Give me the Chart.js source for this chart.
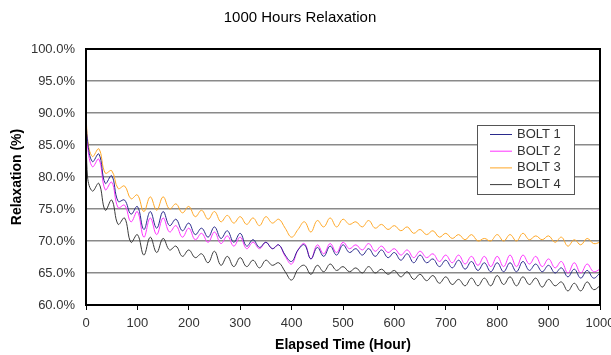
<!DOCTYPE html>
<html>
<head>
<meta charset="utf-8">
<script src="https://cdn.jsdelivr.net/npm/chart.js@4/dist/chart.umd.min.js"></script>
<style>
  html, body { margin: 0; padding: 0; background: #fff; }
  #wrap { width: 611px; height: 355px; }
</style>
</head>
<body>
<div id="wrap"><canvas id="relax" width="611" height="355"></canvas></div>
<script>
// elapsed hours of each reading
const hours = [0, 3, 12.5, 25, 37.5, 50, 62.5, 75, 87.5, 100,
    112.5, 125, 137.5, 150, 162.5, 175, 187.5, 200, 212.5, 225,
    237.5, 250, 262.5, 275, 287.5, 300, 312.5, 325, 337.5, 350,
    362.5, 375, 387.5, 400, 412.5, 425, 437.5, 450, 462.5, 475,
    487.5, 500, 512.5, 525, 537.5, 550, 562.5, 575, 587.5, 600,
    612.5, 625, 637.5, 650, 662.5, 675, 687.5, 700, 712.5, 725,
    737.5, 750, 762.5, 775, 787.5, 800, 812.5, 825, 837.5, 850,
    862.5, 875, 887.5, 900, 912.5, 925, 937.5, 950, 962.5, 975,
    987.5, 1000];

// relaxation (%) per bolt
const bolt1 = [90.0, 85.6, 82.4, 83.6, 79.0, 80.2, 76.2, 76.4, 74.2, 75.4,
    71.8, 74.6, 72.0, 74.6, 72.4, 73.4, 71.6, 72.8, 71.0, 72.0,
    70.6, 72.2, 70.4, 71.6, 69.8, 71.2, 69.2, 70.2, 69.0, 69.8,
    68.8, 69.4, 67.8, 66.8, 68.6, 69.4, 67.2, 69.0, 67.6, 69.2,
    67.8, 69.4, 68.2, 68.8, 67.8, 68.8, 67.6, 68.6, 67.4, 68.2,
    67.0, 68.0, 66.6, 67.8, 66.6, 67.2, 66.0, 67.0, 65.8, 67.0,
    65.6, 66.8, 65.4, 66.6, 65.2, 66.6, 65.2, 66.6, 65.2, 66.8,
    65.4, 66.4, 65.2, 66.2, 65.0, 65.8, 64.4, 65.6, 64.2, 65.4,
    64.2, 65.0];

const bolt2 = [89.0, 84.8, 81.6, 82.8, 78.0, 79.2, 75.2, 75.6, 73.0, 74.6,
    70.6, 73.6, 71.0, 73.6, 71.4, 72.4, 70.6, 72.0, 70.2, 71.2,
    69.8, 71.4, 69.6, 70.8, 69.2, 70.6, 68.8, 69.8, 68.8, 69.8,
    68.8, 69.4, 67.6, 66.4, 68.6, 69.6, 67.2, 69.4, 68.0, 69.6,
    68.2, 69.8, 68.8, 69.4, 68.6, 69.6, 68.4, 69.2, 68.2, 68.8,
    67.8, 68.6, 67.4, 68.4, 67.4, 68.0, 66.8, 67.8, 66.6, 67.8,
    66.4, 67.6, 66.2, 67.6, 66.0, 67.6, 66.0, 67.8, 66.0, 67.8,
    66.4, 67.6, 66.0, 67.2, 65.8, 66.8, 65.0, 66.6, 65.0, 66.4,
    65.2, 65.6];

const bolt3 = [91.5, 86.0, 83.2, 84.4, 80.6, 81.0, 78.2, 78.6, 76.6, 77.2,
    74.6, 76.9, 74.8, 76.9, 75.0, 75.8, 74.4, 75.4, 73.8, 74.8,
    73.4, 74.6, 73.0, 74.0, 72.8, 73.8, 72.6, 73.6, 72.4, 73.8,
    72.8, 73.4, 72.0, 70.6, 71.8, 73.0, 71.4, 73.2, 72.2, 73.6,
    72.2, 73.4, 72.6, 73.0, 72.2, 73.2, 72.0, 72.6, 71.8, 72.4,
    71.6, 72.2, 71.2, 71.8, 71.0, 71.6, 70.6, 71.2, 70.4, 71.0,
    70.2, 71.0, 70.0, 70.4, 70.0, 71.0, 70.0, 71.0, 70.0, 71.2,
    70.2, 70.8, 70.2, 70.8, 69.8, 70.6, 69.2, 70.2, 69.4, 70.4,
    69.6, 69.8];

const bolt4 = [88.2, 80.0, 77.8, 79.0, 74.8, 76.4, 72.6, 73.6, 69.8, 71.0,
    67.8, 70.6, 68.2, 70.4, 68.6, 69.2, 67.6, 68.6, 67.4, 68.0,
    66.6, 68.4, 66.2, 67.6, 66.0, 67.4, 66.0, 67.0, 65.8, 67.0,
    66.2, 66.6, 65.2, 63.9, 65.6, 66.2, 64.8, 66.2, 65.2, 66.4,
    65.4, 66.0, 65.2, 65.8, 65.0, 66.0, 65.0, 65.6, 64.8, 65.4,
    64.4, 65.2, 64.0, 64.8, 63.8, 64.6, 63.4, 64.4, 63.2, 64.0,
    63.0, 64.2, 63.0, 64.2, 63.0, 64.6, 63.2, 64.4, 63.0, 64.4,
    63.2, 64.2, 62.8, 64.0, 63.0, 63.6, 62.2, 63.4, 62.2, 63.6,
    62.4, 63.0];

const seriesNames = ['BOLT 1', 'BOLT 2', 'BOLT 3', 'BOLT 4'];
const seriesValues = [bolt1, bolt2, bolt3, bolt4];
const seriesColors = ['#2a2a8c', '#ff33ff', '#ffa726', '#3a3a3a'];

const FONT = '"Liberation Sans", Arial, sans-serif';

function toPoints(values) {
    return values.map((v, i) => ({ x: hours[i], y: v }));
}

// frame around the plot area, drawn over the lines like in Excel
const framePlugin = {
    id: 'frame',
    afterDatasetsDraw(chart) {
        const { ctx, chartArea: a } = chart;
        ctx.save();
        ctx.strokeStyle = '#000';
        ctx.lineWidth = 2;
        ctx.beginPath();
        ctx.moveTo(a.left, a.top);
        ctx.lineTo(a.right, a.top);
        ctx.lineTo(a.right, a.bottom);
        ctx.lineTo(a.left, a.bottom);
        ctx.closePath();
        ctx.stroke();
        ctx.restore();
    }
};

// boxed legend sitting inside the plot on the right
const boxLegend = {
    id: 'boxLegend',
    afterDraw(chart) {
        const ctx = chart.ctx;
        const x0 = 477, y0 = 125, w = 97, h = 69;
        ctx.save();
        ctx.fillStyle = '#fff';
        ctx.fillRect(x0, y0, w, h);
        ctx.strokeStyle = '#555';
        ctx.lineWidth = 1;
        ctx.strokeRect(x0 + 0.5, y0 + 0.5, w, h);
        ctx.font = '13px ' + FONT;
        ctx.textBaseline = 'middle';
        chart.data.datasets.forEach((ds, i) => {
            const y = y0 + 9.5 + i * 16.7;
            ctx.strokeStyle = ds.borderColor;
            ctx.beginPath();
            ctx.moveTo(x0 + 13, y);
            ctx.lineTo(x0 + 35, y);
            ctx.stroke();
            ctx.fillStyle = '#333';
            ctx.fillText(ds.label, x0 + 40, y);
        });
        ctx.restore();
    }
};

new Chart(document.getElementById('relax'), {
    type: 'line',
    data: {
        datasets: seriesNames.map((name, i) => ({
            label: name,
            data: toPoints(seriesValues[i]),
            borderColor: seriesColors[i],
            backgroundColor: seriesColors[i],
            borderWidth: 1,
            pointRadius: 0,
            tension: 0.4
        }))
    },
    options: {
        responsive: false,
        animation: false,
        layout: { padding: { left: 0, right: 11, top: 0, bottom: 0 } },
        plugins: {
            legend: { display: false },
            tooltip: { enabled: false },
            title: {
                display: true,
                text: '1000 Hours Relaxation',
                color: '#000',
                font: { family: FONT, size: 15, weight: 'normal' },
                padding: { top: 9, bottom: 22 }
            }
        },
        scales: {
            x: {
                type: 'linear',
                min: 0,
                max: 1000,
                ticks: {
                    stepSize: 100,
                    color: '#333',
                    padding: 6,
                    maxRotation: 0,
                    font: { family: FONT, size: 13 },
                    callback: v => String(v)
                },
                grid: {
                    drawOnChartArea: false,
                    drawTicks: true,
                    tickLength: 5,
                    color: '#000'
                },
                border: { color: '#000', width: 2 },
                title: {
                    display: true,
                    text: 'Elapsed Time (Hour)',
                    color: '#000',
                    font: { family: FONT, size: 14, weight: 'bold' },
                    padding: { top: 0, bottom: 1 }
                },
                afterFit(scale) {
                    scale.height = 50;
                    scale.paddingLeft = 0;
                    scale.paddingRight = 0;
                }
            },
            y: {
                min: 60,
                max: 100,
                ticks: {
                    stepSize: 5,
                    color: '#333',
                    padding: 11,
                    font: { family: FONT, size: 13 },
                    callback: v => v.toFixed(1) + '%'
                },
                grid: {
                    drawTicks: false,
                    color: '#8a8a8a',
                    lineWidth: 1.5
                },
                border: { color: '#000', width: 2 },
                title: {
                    display: true,
                    text: 'Relaxation (%)',
                    color: '#000',
                    font: { family: FONT, size: 14, weight: 'bold' },
                    padding: { top: 9, bottom: 0 }
                },
                afterFit(scale) {
                    scale.width = 86;
                    scale.paddingTop = 0;
                    scale.paddingBottom = 0;
                }
            }
        }
    },
    plugins: [framePlugin, boxLegend]
});
</script>
</body>
</html>
